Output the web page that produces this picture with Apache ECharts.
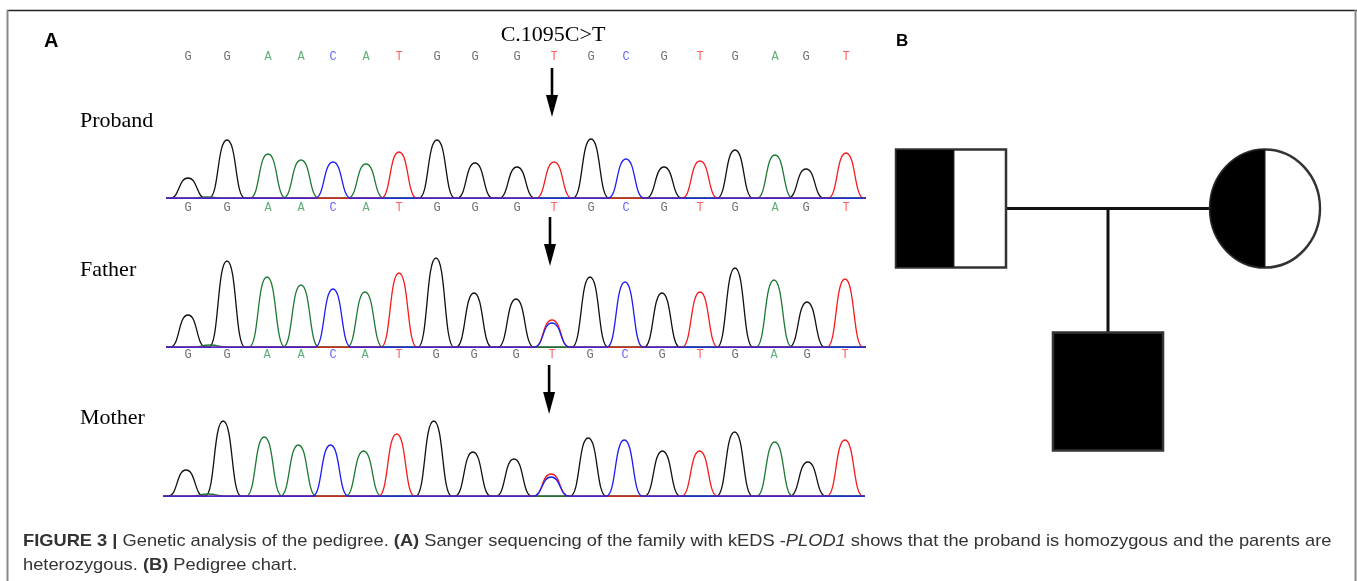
<!DOCTYPE html>
<html lang="en">
<head>
    <meta charset="UTF-8">
    <title>Figure 3</title>
    <script src="https://cdn.jsdelivr.net/npm/echarts@6/dist/echarts.min.js"></script>
    <style>
        html, body { margin: 0; padding: 0; background: #fff; }
        #main { width: 1357px; height: 581px; }
    </style>
</head>
<body>
<div id="main"></div>
<script>
    // base calls (same read for all three samples)
    var bases = ['G','G','A','A','C','A','T','G','G','G','T','G','C','G','T','G','A','G','T'];
    var mutIndex = 10; // c.1095C>T

    // peak position (scan units) and peak height for each base call
    var probandPos = [22,61,102,135,167,200,233,271,309,351,388,425,460,498,534,569,609,640,680];
    var probandHeight = [21,59,45,39,37,35,47,59,36,32,37,60,40,32,38,49,44,30,46];
    var fatherPos = [22,61,101,135,167,199,233,270,308,350,386,424,459,496,534,569,608,641,679];
    var fatherHeight = [33,87,71,63,59,56,75,90,55,49,28,71,66,55,56,80,68,46,69];
    var motherPos = [23,60,101,135,167,200,233,270,309,350,387,424,460,498,535,570,610,643,680];
    var motherHeight = [27,76,60,52,52,46,63,76,45,38,23,59,57,46,46,65,55,35,57];

    // secondary peaks: [position, base, height]
    var probandMinor = [[41,'A',2]];
    var fatherMinor = [[44,'A',3],[386,'C',25]];
    var motherMinor = [[45,'A',3],[387,'C',20]];

    // pedigree
    var members = ['Father','Mother','Proband'];
    var memberSex = ['M','F','M'];
    var generation = [0,0,1];
    var slot = [0,2,1];
    var phenotype = ['carrier','carrier','affected'];

    var traceColor = {G:'#111111', A:'#1f7a35', C:'#1c1cf5', T:'#f51c1c'};
    var letterColor = {G:'#4a4a4a', A:'#3a9a58', C:'#3a3aff', T:'#ff3a3a'};
    var HW = 18, BASE = 0.8;

    function channelData(pos, heights, minor, ch) {
        var peaks = [];
        for (var i = 0; i < bases.length; i++) {
            if (bases[i] === ch) peaks.push([pos[i], heights[i]]);
        }
        minor.forEach(function (m) { if (m[1] === ch) peaks.push([m[0], m[2]]); });
        peaks.sort(function (a, b) { return a[0] - b[0]; });
        var pts = [[0, BASE]];
        peaks.forEach(function (p) {
            pts.push([p[0] - HW, BASE], [p[0], p[1]], [p[0] + HW, BASE]);
        });
        pts.push([700, BASE]);
        return pts;
    }

    var series = [];
    var traces = [
        {pos: probandPos, h: probandHeight, minor: probandMinor},
        {pos: fatherPos, h: fatherHeight, minor: fatherMinor},
        {pos: motherPos, h: motherHeight, minor: motherMinor}
    ];
    traces.forEach(function (t, gi) {
        ['G','A','T','C'].forEach(function (ch) {
            series.push({
                type: 'line',
                xAxisIndex: gi,
                yAxisIndex: gi,
                data: channelData(t.pos, t.h, t.minor, ch),
                smooth: 0.55,
                smoothMonotone: 'x',
                symbol: 'none',
                lineStyle: {color: traceColor[ch], width: 1.3},
                silent: true
            });
        });
    });

    function letterSeries(gi, pos, yv) {
        return {
            type: 'scatter',
            xAxisIndex: gi,
            yAxisIndex: gi,
            clip: false,
            symbolSize: 1,
            itemStyle: {color: 'rgba(0,0,0,0)'},
            silent: true,
            data: bases.map(function (b, i) {
                return {
                    value: [pos[i], yv],
                    label: {
                        show: true, position: 'inside', formatter: b,
                        color: letterColor[b], fontFamily: 'Liberation Mono', fontSize: 12
                    }
                };
            })
        };
    }
    series.push(letterSeries(0, probandPos, 142));
    series.push(letterSeries(0, probandPos, -9));
    series.push(letterSeries(1, fatherPos, -7));

    // pedigree connections: [x1, gen1, x2, gen2]
    series.push({
        type: 'custom',
        xAxisIndex: 3,
        yAxisIndex: 3,
        silent: true,
        z: 2,
        data: [[0,0,2,0],[1,0,1,1]],
        renderItem: function (params, api) {
            var a = api.coord([api.value(0), api.value(1)]);
            var b = api.coord([api.value(2), api.value(3)]);
            return {
                type: 'line',
                shape: {x1: a[0], y1: a[1], x2: b[0], y2: b[1]},
                style: {stroke: '#111', lineWidth: 3}
            };
        }
    });
    series.push({
        type: 'custom',
        xAxisIndex: 3,
        yAxisIndex: 3,
        silent: true,
        z: 3,
        data: members.map(function (m, i) { return [slot[i], generation[i]]; }),
        renderItem: function (params, api) {
            var i = params.dataIndex;
            var c = api.coord([api.value(0), api.value(1)]);
            var w = 110, h = 118;
            var kids = [];
            if (memberSex[i] === 'M') {
                kids.push({type: 'rect', shape: {x: c[0] - w / 2, y: c[1] - h / 2, width: w, height: h},
                    style: {fill: phenotype[i] === 'affected' ? '#000' : '#fff', stroke: '#333', lineWidth: 2.5}});
                if (phenotype[i] === 'carrier') {
                    kids.push({type: 'rect', shape: {x: c[0] - w / 2, y: c[1] - h / 2, width: w / 2 + 3, height: h},
                        style: {fill: '#000', stroke: '#333', lineWidth: 1}});
                }
            } else {
                var sy = h / w;
                kids.push({type: 'circle', x: c[0], y: c[1], scaleY: sy, shape: {cx: 0, cy: 0, r: w / 2},
                    style: {fill: phenotype[i] === 'affected' ? '#000' : '#fff', stroke: '#333', lineWidth: 2.4}});
                if (phenotype[i] === 'carrier') {
                    kids.push({type: 'sector', x: c[0], y: c[1], scaleY: sy,
                        shape: {cx: 0, cy: 0, r0: 0, r: w / 2, startAngle: Math.PI / 2, endAngle: Math.PI * 3 / 2, clockwise: true},
                        style: {fill: '#000', stroke: '#222', lineWidth: 1}});
                }
            }
            return {type: 'group', children: kids};
        }
    });

    function hiddenAxis(min, max, gi, inverse) {
        return {type: 'value', min: min, max: max, gridIndex: gi, show: false, inverse: !!inverse,
            splitLine: {show: false}};
    }

    var chart = echarts.init(document.getElementById('main'), null, {renderer: 'canvas'});
    chart.setOption({
        animation: false,
        backgroundColor: '#fff',
        grid: [
            {left: 166, top: 99, width: 700, height: 100},
            {left: 166, top: 248, width: 700, height: 100},
            {left: 163, top: 397, width: 702, height: 100},
            {left: 951, top: 208.5, width: 314, height: 183}
        ],
        xAxis: [hiddenAxis(0, 700, 0), hiddenAxis(0, 700, 1), hiddenAxis(0, 700, 2), hiddenAxis(0, 2, 3)],
        yAxis: [hiddenAxis(0, 100, 0), hiddenAxis(0, 100, 1), hiddenAxis(0, 100, 2), hiddenAxis(0, 1, 3, true)],
        series: series
    });

    // arrows over the mutated base
    function arrow(gi, pos, yTop, yTip) {
        var x = chart.convertToPixel({xAxisIndex: gi}, pos) - 2;
        return [
            {type: 'line', shape: {x1: x, y1: yTop, x2: x, y2: yTip - 18}, style: {stroke: '#000', lineWidth: 2.6}},
            {type: 'polygon', shape: {points: [[x - 6, yTip - 22], [x + 6, yTip - 22], [x, yTip]]}, style: {fill: '#000'}}
        ];
    }

    var serif = 'Liberation Serif, Times New Roman, serif';
    var sans = 'Liberation Sans, Arial, sans-serif';
    var capRich = {
        b: {fontWeight: 'bold', fontSize: 17, fontFamily: 'Liberation Sans'},
        i: {fontStyle: 'italic', fontSize: 17, fontFamily: 'Liberation Sans'}
    };
    var g = [
        {type: 'line', shape: {x1: 7, y1: 10.5, x2: 1357, y2: 10.5}, style: {stroke: '#222', lineWidth: 1.5}},
        {type: 'line', shape: {x1: 7.5, y1: 10, x2: 7.5, y2: 581}, style: {stroke: '#888', lineWidth: 2}},
        {type: 'line', shape: {x1: 1355.5, y1: 10, x2: 1355.5, y2: 581}, style: {stroke: '#888', lineWidth: 2}},
        {type: 'text', x: 44, y: 41, style: {text: 'A', font: 'bold 20px ' + sans, fill: '#000', textVerticalAlign: 'middle'}},
        {type: 'text', x: 896, y: 41, style: {text: 'B', font: 'bold 17px ' + sans, fill: '#000', textVerticalAlign: 'middle'}},
        {type: 'text', x: 553, y: 35, style: {text: 'C.1095C>T', font: '22px ' + serif, fill: '#000', textAlign: 'center', textVerticalAlign: 'middle'}},
        {type: 'text', x: 80, y: 121, style: {text: 'Proband', font: '22px ' + serif, fill: '#000', textVerticalAlign: 'middle'}},
        {type: 'text', x: 80, y: 270, style: {text: 'Father', font: '22px ' + serif, fill: '#000', textVerticalAlign: 'middle'}},
        {type: 'text', x: 80, y: 418, style: {text: 'Mother', font: '22px ' + serif, fill: '#000', textVerticalAlign: 'middle'}},
        {type: 'text', x: 23, y: 541, scaleX: 1.075, style: {
            text: '{b|FIGURE 3 |} Genetic analysis of the pedigree. {b|(A)} Sanger sequencing of the family with kEDS -{i|PLOD1} shows that the proband is homozygous and the parents are',
            font: '17px ' + sans, fill: '#333', textVerticalAlign: 'middle', rich: capRich
        }},
        {type: 'text', x: 23, y: 565, scaleX: 1.075, style: {
            text: 'heterozygous. {b|(B)} Pedigree chart.',
            font: '17px ' + sans, fill: '#333', textVerticalAlign: 'middle', rich: capRich
        }}
    ];
    g = g.concat(arrow(0, probandPos[mutIndex], 68, 117));
    g = g.concat(arrow(1, fatherPos[mutIndex], 217, 266));
    g = g.concat(arrow(2, motherPos[mutIndex], 365, 414));
    chart.setOption({graphic: {elements: g}});
</script>
</body>
</html>
